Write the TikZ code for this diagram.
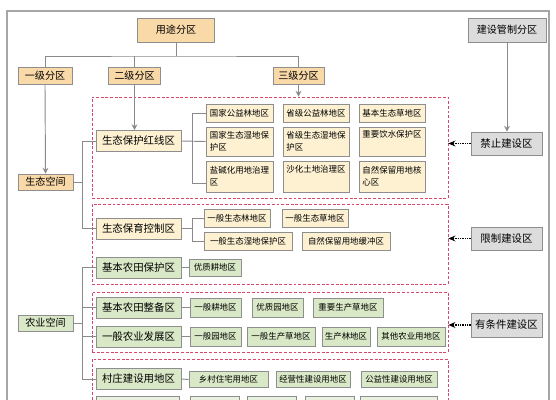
\documentclass[tikz,border=0pt]{standalone}
\usepackage{fontspec}
\newfontfamily\cjk{Noto Sans CJK SC}
\usetikzlibrary{arrows.meta,positioning,calc}

\definecolor{headFill}{HTML}{F9D9A8}
\definecolor{creamFill}{HTML}{FDF1D2}
\definecolor{greenFill}{HTML}{D9E8C6}
\definecolor{grayFill}{HTML}{DCDCDC}
\definecolor{boxline}{HTML}{8E8E8E}
\definecolor{linkgray}{HTML}{8A8A8A}
\definecolor{framegray}{HTML}{A6A6A6}
\definecolor{dashred}{HTML}{D8486C}

\tikzset{
  link/.style={draw=linkgray, line width=0.8pt},
  arr/.style={link, -{Stealth[length=5pt,width=5pt]}},
  ctrl/.style={densely dotted, line width=1pt, -{Stealth[length=6pt,width=5pt]}},
  zonebox/.style={draw=dashred, line width=0.6pt, dash pattern=on 2.5pt off 1.5pt, inner sep=0pt},
  cell/.style n args={3}{draw=boxline, line width=0.6pt, fill=#1, inner sep=0pt,
    minimum width=#2*0.03cm, minimum height=#3*0.03cm},
  headtxt/.style={font=\cjk\fontsize{8.6}{10}\selectfont},
  zonetxt/.style={font=\cjk\fontsize{8.9}{10}\selectfont},
  celltxt/.style={font=\cjk\fontsize{7.2}{10.2}\selectfont, align=left},
}

\begin{document}
\begin{tikzpicture}[x=0.03cm,y=-0.03cm,>=Stealth]
  \useasboundingbox (0,0) rectangle (556,400);
  \clip (0,0) rectangle (556,400);
  \draw[draw=framegray, line width=1.2pt] (7,11) rectangle (549,430);

  % head boxes
  \node[cell={headFill}{77}{24}, headtxt] (yongtu) at (176,30) {用途分区};
  \node[cell={grayFill}{78}{24}, headtxt] (guanzhi) at (507,30) {建设管制分区};
  \node[cell={headFill}{54}{17}, headtxt] (yiji) at (45,75.5) {一级分区};
  \node[cell={headFill}{52}{17}, headtxt] (erji) at (134.5,75.5) {二级分区};
  \node[cell={headFill}{51}{17}, headtxt] (sanji) at (298.5,75.5) {三级分区};
  \coordinate (bus) at (176,56);

  % dashed zones
  \node[zonebox, minimum width=356*0.03cm, minimum height=101*0.03cm] (zoneA) at (270,147.5) {};
  \node[zonebox, minimum width=356*0.03cm, minimum height=80*0.03cm] (zoneB) at (270,244) {};
  \node[zonebox, minimum width=356*0.03cm, minimum height=60*0.03cm] (zoneC) at (270,322) {};
  \node[zonebox, minimum width=356*0.03cm, minimum height=61*0.03cm] (zoneD) at (270,389.5) {};

  % spaces
  \node[cell={headFill}{55}{16}, headtxt] (shengtai) at (45.5,182) {生态空间};
  \node[cell={greenFill}{55}{16}, headtxt] (nongye) at (45.5,323) {农业空间};

  % second level
  \node[cell={creamFill}{85}{21}, zonetxt] (hongxian) at (138.5,141) {生态保护红线区};
  \node[cell={creamFill}{85}{21}, zonetxt] (baoyu) at (138.5,228.5) {生态保育控制区};
  \node[cell={greenFill}{85}{21}, zonetxt] (baohu) at (138.5,267.5) {基本农田保护区};
  \node[cell={greenFill}{85}{21}, zonetxt] (zhengbei) at (138.5,307.5) {基本农田整备区};
  \node[cell={greenFill}{85}{21}, zonetxt] (fazhan) at (138.5,336.5) {一般农业发展区};
  \node[cell={greenFill}{85}{21}, zonetxt] (cunzhuang) at (138.5,379) {村庄建设用地区};

  % control boxes
  \node[cell={grayFill}{71}{23}, zonetxt] (jinzhi) at (506.5,143.5) {禁止建设区};
  \node[cell={grayFill}{71}{23}, zonetxt] (xianzhi) at (506.5,238.5) {限制建设区};
  \node[cell={grayFill}{71}{24}, zonetxt] (youtiao) at (506.5,325) {有条件建设区};

  % red line cells
  \node[cell={creamFill}{67}{18}, celltxt] (gjgyl) at (239.5,113) {国家公益林地区};
  \node[cell={creamFill}{67}{29}, celltxt] (gjsd) at (239.5,141.5) {国家生态湿地保\\护区};
  \node[cell={creamFill}{67}{31}, celltxt] (yjh) at (239.5,176.5) {盐碱化用地治理\\区};
  \node[cell={creamFill}{66}{18}, celltxt] (sjgyl) at (316,113) {省级公益林地区};
  \node[cell={creamFill}{66}{29}, celltxt] (sjsd) at (316,141.5) {省级生态湿地保\\护区};
  \node[cell={creamFill}{66}{31}, celltxt] (shahua) at (316,176.5) {沙化土地治理区\\\strut};
  \node[cell={creamFill}{66}{18}, celltxt] (jbcd) at (392,113) {基本生态草地区};
  \node[cell={creamFill}{66}{29}, celltxt] (yinshui) at (392,141.5) {重要饮水保护区\\\strut};
  \node[cell={creamFill}{66}{31}, celltxt] (hexin) at (392,176.5) {自然保留用地核\\心区};

  % control area cells
  \node[cell={creamFill}{66}{18}, celltxt] (ybstl) at (237,218) {一般生态林地区};
  \node[cell={creamFill}{88}{18}, celltxt] (ybsd) at (248,241) {一般生态湿地保护区};
  \node[cell={creamFill}{66}{18}, celltxt] (ybcd) at (315,218) {一般生态草地区};
  \node[cell={creamFill}{88}{18}, celltxt] (huanchong) at (346,241) {自然保留用地缓冲区};

  % farmland cells
  \node[cell={greenFill}{52}{17}, celltxt] (yzgd) at (215,267.5) {优质耕地区};
  \node[cell={greenFill}{51}{19}, celltxt] (ybgd) at (215.5,307.5) {一般耕地区};
  \node[cell={greenFill}{51}{19}, celltxt] (yzyd) at (277.5,307.5) {优质园地区};
  \node[cell={greenFill}{70}{19}, celltxt] (zycd) at (348,307.5) {重要生产草地区};
  \node[cell={greenFill}{51}{19}, celltxt] (ybyd) at (215.5,336.5) {一般园地区};
  \node[cell={greenFill}{68}{19}, celltxt] (ybcd2) at (281,336.5) {一般生产草地区};
  \node[cell={greenFill}{48}{19}, celltxt] (sclq) at (346,336.5) {生产林地区};
  \node[cell={greenFill}{68}{19}, celltxt] (qita) at (411,336.5) {其他农业用地区};
  \node[cell={greenFill}{79}{16}, celltxt] (xczz) at (228.5,379.5) {乡村住宅用地区};
  \node[cell={greenFill}{74}{16}, celltxt] (jyx) at (313,379.5) {经营性建设用地区};
  \node[cell={greenFill}{76}{16}, celltxt] (gyx) at (399,379.5) {公益性建设用地区};

  % bottom row, cut off
  \foreach \cx/\w in {137.5/83, 214.5/49, 271.5/49, 329.5/49, 398.5/77}{
    \node[cell={greenFill!60!white}{\w}{20}] at (\cx,406) {};
  }

  % head connectors
  \draw[link] (yongtu.south) -- (bus);
  \draw[link] (yiji.north) |- (bus) -| (sanji.north);
  \draw[link] (erji.north) -- (erji.north |- bus);
  \draw[arr] (yiji.south) -- (shengtai.north);
  \draw[arr] (erji.south) -- (erji.south |- hongxian.north);
  \draw[arr] (sanji.south) -- (sanji.south |- zoneA.north);
  \draw[arr] (guanzhi.south) -- (guanzhi.south |- jinzhi.north);

  % space brackets
  \coordinate (trunk) at (82,0);
  \draw[link] (shengtai.east) -- (shengtai.east -| trunk);
  \draw[link] (hongxian.west) -| (trunk |- baoyu.west) -- (baoyu.west);
  \draw[link] (nongye.east) -- (nongye.east -| trunk);
  \draw[link] (baohu.west) -| (trunk |- cunzhuang.west) -- (cunzhuang.west);
  \foreach \n in {zhengbei,fazhan}
    \draw[link] (\n.west) -- (\n.west -| trunk);

  % sub brackets
  \coordinate (subtrunk) at (192,0);
  \draw[link] (hongxian.east) -- (gjsd.west);
  \draw[link] (gjgyl.west) -| (subtrunk |- 0,183) -- ($(yjh.west)+(0,6.5)$);
  \draw[link] (baoyu.east) -- (baoyu.east -| subtrunk);
  \draw[link] (ybstl.west) -| (subtrunk |- ybsd.west) -- (ybsd.west);
  \draw[link] (baohu.east) -- (yzgd.west);
  \draw[link] (zhengbei.east) -- (ybgd.west);
  \draw[link] (fazhan.east) -- (ybyd.west);
  \draw[link] (cunzhuang.east) -- (xczz.west);

  % control arrows
  \draw[ctrl] (jinzhi.west) -- (jinzhi.west -| zoneA.east);
  \draw[ctrl] (xianzhi.west) -- (xianzhi.west -| zoneB.east);
  \draw[ctrl] (youtiao.west) -- (youtiao.west -| zoneC.east);
\end{tikzpicture}
\end{document}
